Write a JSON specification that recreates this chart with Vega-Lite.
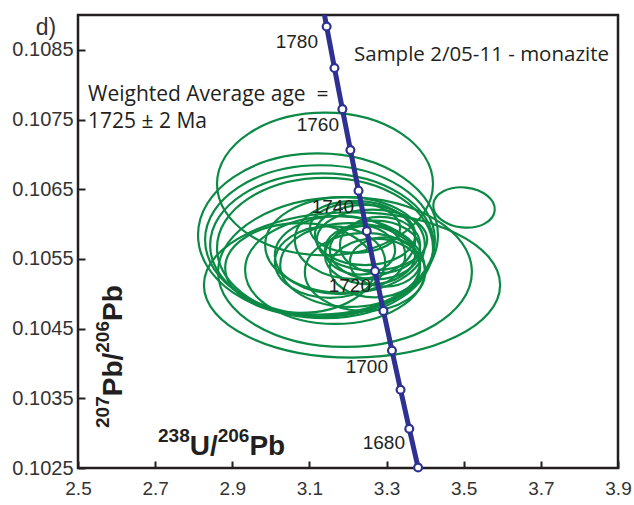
{
  "$schema": "https://vega.github.io/schema/vega-lite/v6.json",
  "width": 540,
  "height": 453,
  "autosize": {"type": "none"},
  "padding": {"left": 78, "top": 15, "right": 16, "bottom": 37},
  "background": "white",
  "config": {
    "view": {"stroke": "#231f20", "strokeWidth": 2.5},
    "axis": {"grid": false, "domain": false, "title": null}
  },
  "datasets": {
    "ellipses": [
      {"id": 1, "x": 3.1404, "y": 0.106575, "a": 0.280, "r": "0.66", "tilt": 0},
      {"id": 2, "x": 3.1222, "y": 0.105843, "a": 0.311, "r": "0.68", "tilt": 0},
      {"id": 3, "x": 3.1274, "y": 0.105772, "a": 0.298, "r": "0.65", "tilt": 0},
      {"id": 4, "x": 3.1326, "y": 0.105700, "a": 0.290, "r": "0.64", "tilt": 0},
      {"id": 5, "x": 3.1404, "y": 0.105657, "a": 0.280, "r": "0.65", "tilt": 0},
      {"id": 6, "x": 3.2104, "y": 0.105126, "a": 0.384, "r": "0.49", "tilt": 0},
      {"id": 7, "x": 3.1922, "y": 0.105312, "a": 0.329, "r": "0.59", "tilt": 0},
      {"id": 8, "x": 3.2182, "y": 0.105772, "a": 0.156, "r": "0.65", "tilt": 0},
      {"id": 9, "x": 3.2441, "y": 0.105843, "a": 0.130, "r": "0.6", "tilt": 0},
      {"id": 10, "x": 3.1793, "y": 0.105556, "a": 0.169, "r": "0.6", "tilt": 0},
      {"id": 11, "x": 3.2570, "y": 0.105556, "a": 0.117, "r": "0.65", "tilt": 0},
      {"id": 12, "x": 3.2052, "y": 0.105413, "a": 0.181, "r": "0.6", "tilt": 0},
      {"id": 13, "x": 3.2311, "y": 0.105628, "a": 0.091, "r": "0.7", "tilt": 0},
      {"id": 14, "x": 3.2830, "y": 0.105700, "a": 0.104, "r": "0.7", "tilt": 0},
      {"id": 15, "x": 3.1533, "y": 0.105456, "a": 0.143, "r": "0.65", "tilt": 0},
      {"id": 16, "x": 3.2700, "y": 0.105370, "a": 0.117, "r": "0.65", "tilt": 0},
      {"id": 17, "x": 3.1922, "y": 0.105700, "a": 0.207, "r": "0.6", "tilt": 0},
      {"id": 18, "x": 3.2441, "y": 0.105312, "a": 0.156, "r": "0.65", "tilt": 0},
      {"id": 19, "x": 3.1663, "y": 0.105341, "a": 0.233, "r": "0.6", "tilt": 0},
      {"id": 20, "x": 3.0756, "y": 0.105370, "a": 0.194, "r": "0.6", "tilt": 0},
      {"id": 21, "x": 3.2959, "y": 0.105456, "a": 0.091, "r": "0.7", "tilt": 0},
      {"id": 22, "x": 3.2182, "y": 0.105944, "a": 0.117, "r": "0.55", "tilt": 0},
      {"id": 23, "x": 3.2622, "y": 0.105772, "a": 0.143, "r": "0.55", "tilt": 0},
      {"id": 24, "x": 3.2700, "y": 0.105628, "a": 0.117, "r": "0.65", "tilt": 0},
      {"id": 25, "x": 3.5008, "y": 0.106238, "a": 0.080, "r": "0.65", "tilt": 6}
    ],
    "concordia": [
      {"t": 1670, "x": 3.38169, "y": 0.102507},
      {"t": 1680, "x": 3.35884, "y": 0.103063},
      {"t": 1690, "x": 3.33626, "y": 0.103623},
      {"t": 1700, "x": 3.31395, "y": 0.104186},
      {"t": 1710, "x": 3.29192, "y": 0.104754},
      {"t": 1720, "x": 3.27012, "y": 0.105325},
      {"t": 1730, "x": 3.24858, "y": 0.105900},
      {"t": 1740, "x": 3.22730, "y": 0.106479},
      {"t": 1750, "x": 3.20626, "y": 0.107062},
      {"t": 1760, "x": 3.18546, "y": 0.107649},
      {"t": 1770, "x": 3.16489, "y": 0.108240},
      {"t": 1780, "x": 3.14456, "y": 0.108835},
      {"t": 1790, "x": 3.12447, "y": 0.109434}
    ],
    "ages": [
      {"label": "1780", "x": 3.1222, "y": 0.108527},
      {"label": "1760", "x": 3.1767, "y": 0.107336},
      {"label": "1740", "x": 3.2156, "y": 0.106159},
      {"label": "1720", "x": 3.2596, "y": 0.105025},
      {"label": "1700", "x": 3.3037, "y": 0.103863},
      {"label": "1680", "x": 3.3478, "y": 0.102773}
    ],
    "xtitle": [
      {"label": "238", "kind": "sup", "x": 2.70741, "y": 0.102873},
      {"label": "U/", "kind": "main", "x": 2.7896, "y": 0.102687},
      {"label": "206", "kind": "sup", "x": 2.86219, "y": 0.102873},
      {"label": "Pb", "kind": "main", "x": 2.94437, "y": 0.102687}
    ],
    "ytitle": [
      {"label": "207", "kind": "sup", "x": 2.58037, "y": 0.103074},
      {"label": "Pb/", "kind": "main", "x": 2.61407, "y": 0.103529},
      {"label": "206", "kind": "sup", "x": 2.58037, "y": 0.104154},
      {"label": "Pb", "kind": "main", "x": 2.61407, "y": 0.104609}
    ]
  },
  "layer": [
    {
      "data": {"name": "ellipses"},
      "mark": {"type": "point", "filled": false, "stroke": "#0b8a45", "strokeWidth": 2.2, "opacity": 1, "clip": true},
      "encoding": {
        "x": {"field": "x", "type": "quantitative", "scale": {"domain": [2.5, 3.9], "nice": false, "zero": false},
          "axis": {"values": [2.5, 2.6, 2.7, 2.8, 2.9, 3.0, 3.1, 3.2, 3.3, 3.4, 3.5, 3.6, 3.7, 3.8, 3.9],
            "labelExpr": "(round(datum.value*10) % 2 == 1) ? format(datum.value, '.1f') : ''",
            "tickSize": -7, "tickWidth": 2, "tickColor": "#231f20", "labelPadding": 18,
            "labelFont": "Liberation Sans", "labelFontSize": 19, "labelColor": "#333333", "labelFlush": false}},
        "y": {"field": "y", "type": "quantitative", "scale": {"domain": [0.1025, 0.109], "nice": false, "zero": false},
          "axis": {"values": [0.1025, 0.103, 0.1035, 0.104, 0.1045, 0.105, 0.1055, 0.106, 0.1065, 0.107, 0.1075, 0.108, 0.1085],
            "labelExpr": "(round(datum.value*2000) % 2 == 1) ? format(datum.value, '.4f') : ''",
            "tickSize": -7, "tickWidth": 2, "tickColor": "#231f20", "labelPadding": 12,
            "labelFont": "Liberation Sans", "labelFontSize": 20, "labelColor": "#333333", "labelFlush": false}},
        "size": {"field": "a", "type": "quantitative", "legend": null,
          "scale": {"type": "pow", "exponent": 2, "domain": [0, 1], "range": [0, 595102], "zero": true}},
        "shape": {"field": "r", "type": "nominal", "legend": null,
          "scale": {"domain": ["0.49", "0.55", "0.59", "0.6", "0.64", "0.65", "0.66", "0.68", "0.7"],
            "range": [
              "M-1,0A1,0.49 0 1,1 1,0A1,0.49 0 1,1 -1,0Z",
              "M-1,0A1,0.55 0 1,1 1,0A1,0.55 0 1,1 -1,0Z",
              "M-1,0A1,0.59 0 1,1 1,0A1,0.59 0 1,1 -1,0Z",
              "M-1,0A1,0.6 0 1,1 1,0A1,0.6 0 1,1 -1,0Z",
              "M-1,0A1,0.64 0 1,1 1,0A1,0.64 0 1,1 -1,0Z",
              "M-1,0A1,0.65 0 1,1 1,0A1,0.65 0 1,1 -1,0Z",
              "M-1,0A1,0.66 0 1,1 1,0A1,0.66 0 1,1 -1,0Z",
              "M-1,0A1,0.68 0 1,1 1,0A1,0.68 0 1,1 -1,0Z",
              "M-1,0A1,0.7 0 1,1 1,0A1,0.7 0 1,1 -1,0Z"
            ]}},
        "angle": {"field": "tilt", "type": "quantitative", "legend": null,
          "scale": {"domain": [0, 360], "range": [0, 360], "zero": true}}
      }
    },
    {
      "data": {"name": "concordia"},
      "mark": {"type": "line", "stroke": "#2e3192", "strokeWidth": 5, "clip": true},
      "encoding": {
        "x": {"field": "x", "type": "quantitative"},
        "y": {"field": "y", "type": "quantitative"},
        "order": {"field": "t"}
      }
    },
    {
      "data": {"name": "concordia"},
      "transform": [{"filter": "datum.t <= 1780"}],
      "mark": {"type": "point", "shape": "circle", "filled": true, "fill": "white", "stroke": "#2e3192", "strokeWidth": 2.2, "size": 62, "opacity": 1},
      "encoding": {
        "x": {"field": "x", "type": "quantitative"},
        "y": {"field": "y", "type": "quantitative"}
      }
    },
    {
      "data": {"name": "ages"},
      "mark": {"type": "text", "align": "right", "baseline": "alphabetic", "font": "Liberation Sans", "fontSize": 19, "fill": "#231f20"},
      "encoding": {
        "x": {"field": "x", "type": "quantitative"},
        "y": {"field": "y", "type": "quantitative"},
        "text": {"field": "label"}
      }
    },
    {
      "data": {"values": [{"x": 3.8767, "y": 0.10834, "label": "Sample 2/05-11 - monazite"}]},
      "mark": {"type": "text", "align": "right", "baseline": "alphabetic", "font": "Open Sans", "fontSize": 20.5, "fill": "#231f20"},
      "encoding": {"x": {"field": "x", "type": "quantitative"}, "y": {"field": "y", "type": "quantitative"}, "text": {"field": "label"}}
    },
    {
      "data": {"values": [
        {"x": 2.5259, "y": 0.10777, "label": "Weighted Average age\u00a0\u00a0="},
        {"x": 2.5259, "y": 0.107379, "label": "1725 ± 2 Ma"}
      ]},
      "mark": {"type": "text", "align": "left", "baseline": "alphabetic", "font": "Open Sans", "fontSize": 21, "fill": "#231f20"},
      "encoding": {"x": {"field": "x", "type": "quantitative"}, "y": {"field": "y", "type": "quantitative"}, "text": {"field": "label"}}
    },
    {
      "data": {"values": [{"x": 2.417, "y": 0.108713, "label": "d)"}]},
      "mark": {"type": "text", "align": "center", "baseline": "alphabetic", "font": "Liberation Sans", "fontSize": 23, "fill": "#333333"},
      "encoding": {"x": {"field": "x", "type": "quantitative"}, "y": {"field": "y", "type": "quantitative"}, "text": {"field": "label"}}
    },
    {
      "data": {"name": "xtitle"},
      "mark": {"type": "text", "align": "left", "baseline": "alphabetic", "font": "Liberation Sans", "fontWeight": "bold", "fill": "#231f20"},
      "encoding": {
        "x": {"field": "x", "type": "quantitative"}, "y": {"field": "y", "type": "quantitative"}, "text": {"field": "label"},
        "size": {"field": "kind", "type": "nominal", "legend": null, "scale": {"domain": ["main", "sup"], "range": [28, 19]}}
      }
    },
    {
      "data": {"name": "ytitle"},
      "mark": {"type": "text", "align": "left", "baseline": "alphabetic", "angle": 270, "font": "Liberation Sans", "fontWeight": "bold", "fill": "#231f20"},
      "encoding": {
        "x": {"field": "x", "type": "quantitative"}, "y": {"field": "y", "type": "quantitative"}, "text": {"field": "label"},
        "size": {"field": "kind", "type": "nominal", "legend": null, "scale": {"domain": ["main", "sup"], "range": [28, 19]}}
      }
    }
  ]
}
